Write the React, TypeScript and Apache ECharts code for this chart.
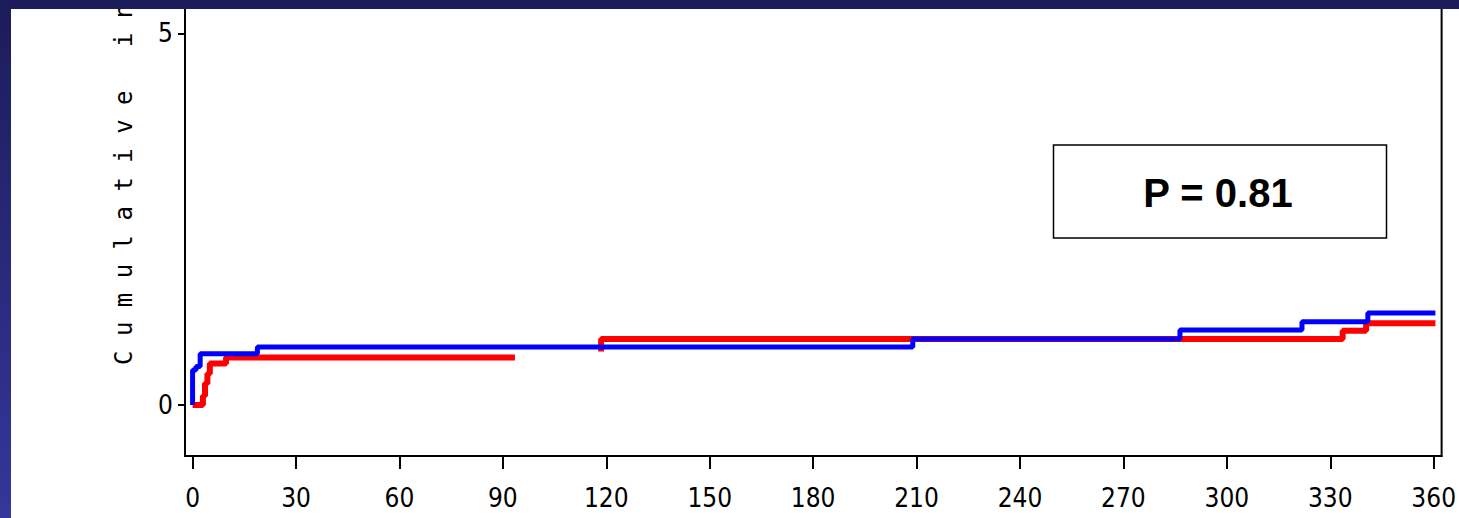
import React, { useEffect, useRef } from "react";
import * as echarts from "echarts";

// Cumulative incidence steps: [day, cumulative %]; null = line hidden behind the other group
const redSteps: [number, number | null][] = [
  [0, 0], [3, 0.12], [3.6, 0.29], [4.3, 0.42], [5, 0.56], [9.7, 0.64],
  [93.5, 0.64], [93.6, null], [118.5, 0.72], [118.5, 0.89], [333.6, 1.0], [340.4, 1.1], [360.5, 1.1],
];
const blueSteps: [number, number][] = [
  [0, 0], [0, 0.47], [1, 0.52], [2.2, 0.69], [18.8, 0.78], [208.9, 0.89],
  [286.4, 1.01], [321.8, 1.12], [340.9, 1.24], [360.5, 1.24],
];
const xTicks = [0, 30, 60, 90, 120, 150, 180, 210, 240, 270, 300, 330, 360];
const yTicks = [0, 5];
const yTitle = "C u m u l a t i v e\u00A0\u00A0\u00A0i n";
const pText = "P = 0.81";

export default function App() {
  const ref = useRef<HTMLDivElement>(null);
  useEffect(() => {
    if (!ref.current) return;
    const chart = echarts.init(ref.current, undefined, { renderer: "svg" });
    const tickFont = "'Liberation Sans Narrow', 'DejaVu Sans Condensed', sans-serif";
    chart.setOption({
      animation: false,
      backgroundColor: "#ffffff",
      grid: {
        left: 185, right: 17, top: 3, bottom: 62,
        show: true, borderColor: "#000", borderWidth: 2, backgroundColor: "transparent",
      },
      xAxis: {
        type: "value", min: -2.2, max: 362.3,
        axisLine: { show: true, onZero: false, lineStyle: { color: "#000", width: 2 } },
        axisTick: { show: true, length: 13, customValues: xTicks, lineStyle: { color: "#000", width: 2 } },
        axisLabel: { customValues: xTicks, color: "#000", fontSize: 26, fontFamily: tickFont, margin: 29 },
        splitLine: { show: false },
      },
      yAxis: {
        type: "value", min: -0.686, max: 5.41,
        axisLine: { show: true, onZero: false, lineStyle: { color: "#000", width: 2 } },
        axisTick: { show: true, length: 7, customValues: yTicks, lineStyle: { color: "#000", width: 2 } },
        axisLabel: { customValues: yTicks, color: "#000", fontSize: 26, fontFamily: tickFont, margin: 12, padding: [8, 0, 0, 0] },
        splitLine: { show: false },
      },
      series: [
        {
          type: "line", step: "end", data: redSteps, showSymbol: false, connectNulls: false,
          lineStyle: { color: "#ff0000", width: 6 }, z: 2,
        },
        {
          type: "line", step: "end", data: blueSteps, showSymbol: false,
          lineStyle: { color: "#0000ff", width: 5 }, z: 3,
        },
      ],
      graphic: [
        {
          type: "text", x: 124, y: 365, rotation: Math.PI / 2, z: 50,
          style: {
            text: yTitle, fill: "#000", fontSize: 24,
            fontFamily: "'DejaVu Sans Mono', monospace",
            textAlign: "left", textVerticalAlign: "middle",
          },
        },
        {
          type: "rect", z: 40,
          shape: { x: 1053.5, y: 145, width: 333, height: 93 },
          style: { fill: "#fff", stroke: "#000", lineWidth: 1.5 },
        },
        {
          type: "text", x: 1218, y: 193, z: 41,
          style: {
            text: pText, fill: "#000", fontSize: 40, fontWeight: "bold",
            fontFamily: "'Liberation Sans', Arial, sans-serif",
            textAlign: "center", textVerticalAlign: "middle",
          },
        },
        {
          type: "rect", z: 100,
          shape: { x: 0, y: 0, width: 1459, height: 9 },
          style: { fill: "#1c1c5a" },
        },
        {
          type: "rect", z: 100,
          shape: { x: 0, y: 0, width: 11, height: 518 },
          style: {
            fill: new echarts.graphic.LinearGradient(0, 0, 0, 1, [
              { offset: 0, color: "#1c1c5a" },
              { offset: 1, color: "#36369c" },
            ]),
          },
        },
      ],
    });
    return () => chart.dispose();
  }, []);
  return (
    <div
      ref={ref}
      style={{ position: "absolute", left: 0, top: 0, width: 1459, height: 518 }}
    />
  );
}
